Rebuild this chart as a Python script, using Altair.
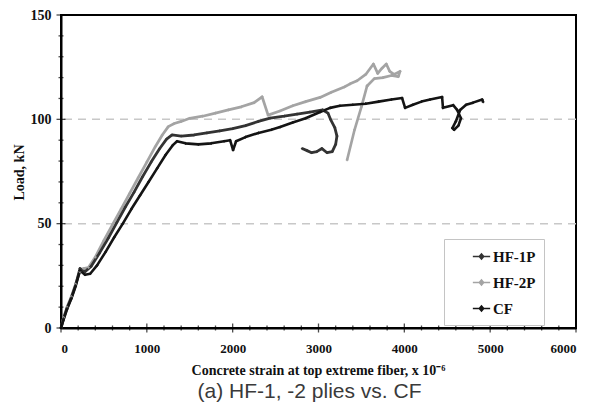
import altair as alt
import pandas as pd

series_names = ["HF-1P", "HF-2P", "CF"]

hf2_x = [0, 30, 70, 120, 170, 220, 260, 320, 400, 500, 600, 700, 800, 900, 1000, 1100, 1180, 1250, 1320, 1400,
         1500, 1650, 1800, 1950, 2100, 2250, 2343, 2413, 2550, 2700, 2850, 3019, 3150, 3300, 3368, 3450, 3550,
         3640, 3690, 3740, 3790, 3830, 3880, 3950, 3930, 3850, 3750, 3650, 3566]
hf2_y = [0, 5, 10, 15, 21, 27, 28.5, 29, 34, 42, 49.5, 57, 64.5, 72, 79.5, 87, 92.5, 96.5, 98, 99,
         100.5, 101.5, 103, 104.5, 106, 108, 110.8, 102, 104, 106.5, 108.5, 110.5, 113, 115.5, 117, 118.5, 121.5,
         126.5, 122, 124.5, 126.5, 123, 121.5, 123, 120.5, 121, 120, 119.5, 116]
# thin descending tail of HF-2P
hf2t_x = [3566, 3500, 3420, 3333]
hf2t_y = [116, 106, 95, 80.5]

hf1_x = [0, 30, 70, 120, 170, 221, 280, 350, 450, 550, 650, 750, 850, 950, 1050, 1150, 1230, 1294, 1400, 1550,
         1700, 1850, 2000, 2150, 2300, 2436, 2600, 2750, 2900, 3050, 3110, 3140, 3190, 3215, 3200, 3160, 3100,
         3040, 2980, 2920, 2867, 2810]
hf1_y = [0, 4.5, 9.5, 14.5, 20.5, 28.5, 27, 29.5, 36, 43, 50.5, 58, 65, 72.5, 79.5, 86, 90.5, 92.5, 92, 92.5,
         93.5, 94.5, 95.5, 97, 99, 100.6, 101.5, 102.5, 103.5, 104.5, 103, 100, 96, 92, 88, 84.5, 84,
         86, 84.5, 84, 85, 86]

cf_x = [0, 30, 70, 120, 170, 221, 280, 340, 420, 520, 620, 720, 820, 920, 1020, 1120, 1220, 1300, 1352, 1450,
        1600, 1750, 1900, 1970, 2005, 2040, 2150, 2300, 2450, 2552, 2700, 2850, 3019, 3135, 3250, 3400, 3550,
        3700, 3850, 3974, 4009, 4100, 4200, 4300, 4440, 4450, 4569, 4615, 4660, 4630, 4580, 4560, 4600, 4650,
        4720, 4800, 4907, 4918]
cf_y = [0, 4, 9, 14, 20, 27.5, 25.5, 26, 30, 36.5, 43.5, 50, 57, 63.5, 70, 76.5, 83, 87.5, 89.5, 88.5,
        88, 88.5, 89.5, 90, 85.3, 89.5, 91.5, 93.5, 95, 96.3, 98.5, 100.5, 103.5, 105.5, 106.5, 107, 107.5,
        108.5, 109.5, 110.2, 105.5, 107, 108.5, 109.5, 110.7, 105.5, 106.8, 104.5, 100.5, 97, 95, 95.8, 99, 104.5,
        107, 108, 109.5, 108.3]

grid_values = [50, 100]
x_major = [0, 1000, 2000, 3000, 4000, 5000, 6000]
x_minor = [v for v in range(0, 6001, 200) if v % 1000 != 0]
y_major = [0, 50, 100, 150]
y_minor = [v for v in range(0, 151, 10) if v % 50 != 0]

colors = ["#333333", "#a4a4a4", "#141414"]
seg_names = ["HF-1P", "HF-2P", "HF-2P tail", "CF"]
seg_widths = [2.8, 2.6, 1.2, 3.2]
marker_sizes = [10, 10, 14, 12]

rows = []
for name, seg, xs, ys in [("HF-2P", "HF-2P", hf2_x, hf2_y), ("HF-2P", "HF-2P tail", hf2t_x, hf2t_y),
                          ("HF-1P", "HF-1P", hf1_x, hf1_y), ("CF", "CF", cf_x, cf_y)]:
    for i, (a, b) in enumerate(zip(xs, ys)):
        rows.append({"series": name, "seg": seg, "i": i, "strain": a, "load": b})
df = pd.DataFrame(rows)
grid_df = pd.DataFrame({"g": grid_values})
xt_df = pd.DataFrame({"v": x_major + x_minor, "kind": ["major"] * len(x_major) + ["minor"] * len(x_minor)})
yt_df = pd.DataFrame({"v": y_major + y_minor, "kind": ["major"] * len(y_major) + ["minor"] * len(y_minor)})

SERIF = "Liberation Serif"
xdom = alt.Scale(domain=[0, 6000], nice=False, zero=False)
ydom = alt.Scale(domain=[0, 150], nice=False, zero=False)
cscale = alt.Scale(domain=series_names, range=colors)
tick_size_scale = alt.Scale(domain=["major", "minor"], range=[9, 5])

color_enc = alt.Color("series:N", sort=series_names, scale=cscale,
                      legend=alt.Legend(title=None, orient="none", legendX=383, legendY=224,
                                        symbolType="M-1,0L1,0M0,-0.3L0.25,0L0,0.3L-0.25,0Z",
                                        symbolSize=300, symbolStrokeWidth=1.6, symbolFillColor="white",
                                        labelFont=SERIF, labelFontSize=15, labelFontWeight="bold",
                                        labelColor="#111", strokeColor="#c4c4c4", padding=8,
                                        rowPadding=8, symbolOffset=20, labelOffset=2,
                                        fillColor="white"))

grid = alt.Chart(grid_df).mark_rule(strokeDash=[8, 6], color="#c8c8c8", strokeWidth=1.5).encode(
    y=alt.Y("g:Q", scale=ydom, axis=None))

lines = alt.Chart(df).mark_line(strokeJoin="round").encode(
    x=alt.X("strain:Q", scale=xdom,
            axis=alt.Axis(values=x_major, format="d", ticks=False, orient="bottom",
                          domainColor="black", domainWidth=2, grid=False,
                          labelFont=SERIF, labelFontSize=13, labelFontWeight="bold", labelColor="#111",
                          labelPadding=14,
                          title="Concrete strain at top extreme  fiber, x 10\u207b\u2076",
                          titleFont=SERIF, titleFontSize=14, titleFontWeight="bold", titleColor="#111",
                          titleX=257, titleY=42, titleBaseline="middle", titleAlign="center")),
    y=alt.Y("load:Q", scale=ydom,
            axis=alt.Axis(values=y_major, format="d", ticks=False, orient="left",
                          domainColor="black", domainWidth=2, grid=False,
                          labelFont=SERIF, labelFontSize=14, labelFontWeight="bold", labelColor="#111",
                          labelPadding=10,
                          title="Load, kN", titleFont=SERIF, titleFontSize=14, titleFontWeight="bold",
                          titleColor="#111", titleX=-42, titleY=157, titleBaseline="middle",
                          titleAlign="center")),
    color=color_enc,
    detail="seg:N",
    strokeWidth=alt.StrokeWidth("seg:N", scale=alt.Scale(domain=seg_names, range=seg_widths), legend=None),
    order=alt.Order("i:Q"),
)

points = alt.Chart(df).mark_point(filled=True, shape="diamond", opacity=1).encode(
    x=alt.X("strain:Q", scale=xdom, axis=None),
    y=alt.Y("load:Q", scale=ydom, axis=None),
    color=alt.Color("series:N", sort=series_names, scale=cscale, legend=None),
    size=alt.Size("seg:N", scale=alt.Scale(domain=seg_names, range=marker_sizes), legend=None),
)

xticks = alt.Chart(xt_df).mark_tick(orient="vertical", thickness=1.3, color="black").encode(
    x=alt.X("v:Q", scale=xdom, axis=None),
    y=alt.datum(0, scale=ydom, axis=None),
    size=alt.Size("kind:N", scale=tick_size_scale, legend=None),
)
yticks = alt.Chart(yt_df).mark_tick(orient="horizontal", thickness=1.3, color="black").encode(
    y=alt.Y("v:Q", scale=ydom, axis=None),
    x=alt.datum(0, scale=xdom, axis=None),
    size=alt.Size("kind:N", scale=tick_size_scale, legend=None),
)

chart = alt.layer(
    grid, lines, points, xticks, yticks,
).resolve_axis(x="independent", y="independent").resolve_scale(size="independent").properties(
    width=515, height=313,
    padding={"left": 53, "top": 7, "right": 14, "bottom": 74},
    autosize=alt.AutoSizeParams(type="none"),
    title=alt.TitleParams("(a) HF-1, -2 plies vs. CF", orient="bottom", anchor="middle",
                          font="Liberation Sans", fontSize=21, fontWeight="normal", color="#3a3a3a",
                          offset=4, dx=-9),
).configure_view(stroke="black", strokeWidth=2)

chart.save("out.html", embed_options={"renderer": "svg", "actions": False})
